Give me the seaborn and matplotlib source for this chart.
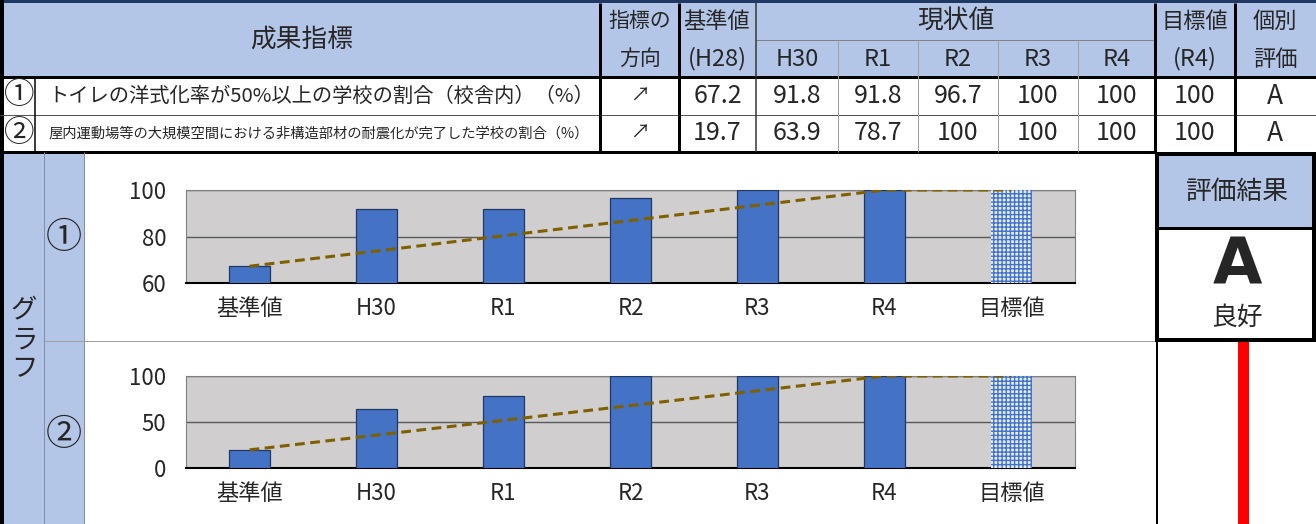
import matplotlib
matplotlib.use('Agg')
import matplotlib.pyplot as plt
from matplotlib import font_manager
from matplotlib.patches import Rectangle
import seaborn as sns

# データ
categories = ['基準値', 'H30', 'R1', 'R2', 'R3', 'R4', '目標値']
years = ['H30', 'R1', 'R2', 'R3', 'R4']
values_1 = [67.2, 91.8, 91.8, 96.7, 100, 100, 100]
values_2 = [19.7, 63.9, 78.7, 100, 100, 100, 100]
marks = ['①', '②']
names = ['トイレの洋式化率が50%以上の学校の割合（校舎内）（%）',
         '屋内運動場等の大規模空間における非構造部材の耐震化が完了した学校の割合（%）']
directions = ['↗', '↗']
grades = ['A', 'A']
result_grade = 'A'
result_text = '良好'
ylims = [(60, 100), (0, 100)]
yticks = [[60, 80, 100], [0, 50, 100]]

sns.set_style('white')
JP = ['Noto Sans CJK JP', 'DejaVu Sans']
installed = {f.name for f in font_manager.fontManager.ttflist}
NUM = (['Liberation Sans Narrow'] if 'Liberation Sans Narrow' in installed else []) + JP
plt.rcParams['font.family'] = JP

HEAD = '#B4C6E7'
BAR = '#4472C4'

W, H = 1316, 524
fig = plt.figure(figsize=(W / 100, H / 100), dpi=100)
bg = fig.add_axes([0, 0, 1, 1])
bg.set_xlim(0, W)
bg.set_ylim(H, 0)
bg.axis('off')


def box(x0, y0, x1, y1, fc):
    bg.add_patch(Rectangle((x0, y0), x1 - x0, y1 - y0, facecolor=fc, edgecolor='none', zorder=1))


def hl(y, x0, x1, px, c='black'):
    bg.plot([x0, x1], [y, y], color=c, lw=px * 0.72, solid_capstyle='butt', zorder=3)


def vl(x, y0, y1, px, c='black'):
    bg.plot([x, x], [y0, y1], color=c, lw=px * 0.72, solid_capstyle='butt', zorder=3)


def txt(x, y, s, size, fam=JP, **kw):
    bg.text(x, y, s, fontsize=size, family=fam, ha='center', va='center', zorder=4, **kw)


# 背景
box(3, 3, W, 77, HEAD)
box(3, 152, 84, H, HEAD)
box(1155, 152, W, 228, HEAD)

# 表ヘッダ
val_cols = [679, 756, 838, 918, 998, 1078, 1155, 1235]
txt(302, 40, '成果指標', 18.5)
txt(640, 21, '指標の', 15)
txt(640, 59, '方向', 15)
txt(717, 21, '基準値', 16)
txt(717, 59, '(H28)', 17, fam=NUM)
txt(956, 21, '現状値', 18.5)
for i, y in enumerate(years):
    txt((val_cols[i + 1] + val_cols[i + 2]) / 2, 59, y, 17, fam=NUM)
txt(1195, 21, '目標値', 16)
txt(1195, 59, '(R4)', 17, fam=NUM)
txt(1275, 21, '個別', 16)
txt(1275, 59, '評価', 16)

# 表データ
for r, vals in enumerate([values_1, values_2]):
    yc = 96 + r * 37.5
    txt(19, yc, marks[r], 22)
    bg.text(48, yc, names[r], fontsize=14.6 if r == 0 else 10.3, family=JP,
            ha='left', va='center', zorder=4)
    txt(640, yc, directions[r], 14)
    for i, v in enumerate(vals):
        txt((val_cols[i] + val_cols[i + 1]) / 2, yc, f'{v:g}', 18, fam=NUM)
    txt(1275, yc, grades[r], 19)

# 罫線
box(0, 0, W, 3, '#203864')
vl(2, 0, H, 4)
hl(77, 0, W, 3)
hl(115, 0, W, 1, '#555555')
hl(152, 0, 1155, 3)
hl(40, 756, 1155, 1, '#808080')
vl(35, 77, 152, 1.5)
vl(600, 3, 152, 3)
vl(679, 3, 152, 3)
vl(756, 3, 152, 1.5, '#333333')
for x in val_cols[2:-2]:
    vl(x, 40, 152, 1, '#A0A0A0')
vl(1155, 3, 152, 3)
vl(1235, 3, 152, 3)
vl(44, 152, H, 1, '#7F8FA6')
vl(84, 152, H, 1, '#7F8FA6')
hl(341, 44, 1155, 1, '#A0A0A0')

# グラフ区分
txt(24, 340, 'グ\nラ\nフ', 19, linespacing=1.1)
txt(64, 238, marks[0], 26)
txt(64, 435, marks[1], 26)

# 評価結果
bg.add_patch(Rectangle((1157, 154), 157, 186, facecolor='none', edgecolor='black',
                       lw=4 * 0.72, zorder=5))
hl(228, 1157, 1314, 3)
txt(1237, 192, '評価結果', 18.5)
txt(1237, 266, result_grade, 46, fam=['DejaVu Sans'], fontweight='bold')
txt(1237, 318, result_text, 18.5)
vl(1157, 340, H, 2)
box(1238, 342, 1249, H, '#FF0000')

# 棒グラフ
for k, (vals, top, bottom) in enumerate([(values_1, 190, 283), (values_2, 376, 468)]):
    ax = fig.add_axes([186 / W, 1 - bottom / H, (1075 - 186) / W, (bottom - top) / H])
    sns.barplot(x=categories, y=vals, ax=ax, color=BAR, saturation=1, width=0.32,
                edgecolor='#203864', linewidth=0.9, zorder=3)
    target = ax.patches[-1]
    target.set_facecolor('#E4ECF8')
    target.set_edgecolor(BAR)
    target.set_hatch('++++')
    target.set_linewidth(0)
    # 基準値から目標値までの線
    i_r4 = categories.index('R4')
    ax.plot([0, i_r4, len(categories) - 1], [vals[0], vals[-1], vals[-1]],
            color='#7F6000', lw=2.2, dashes=(3.2, 1.8), zorder=4)
    ax.set_facecolor('#D0CECE')
    ax.set_ylim(*ylims[k])
    ax.set_yticks(yticks[k])
    ax.set_xlim(-0.5, len(categories) - 0.5)
    ax.grid(axis='y', color='#595959', lw=1, zorder=1)
    ax.set_axisbelow(True)
    ax.set_xlabel('')
    ax.set_ylabel('')
    ax.tick_params(axis='y', length=0, pad=14, labelsize=16)
    ax.tick_params(axis='x', length=0, pad=10, labelsize=16)
    for lab in ax.get_yticklabels():
        lab.set_family(NUM)
    for lab in ax.get_xticklabels():
        lab.set_family(NUM)
    for side in ['top', 'left', 'right']:
        ax.spines[side].set_color('#808080')
        ax.spines[side].set_linewidth(0.8)
    ax.spines['bottom'].set_color('black')
    ax.spines['bottom'].set_linewidth(1.5)

fig.savefig('out.png', dpi=100)
